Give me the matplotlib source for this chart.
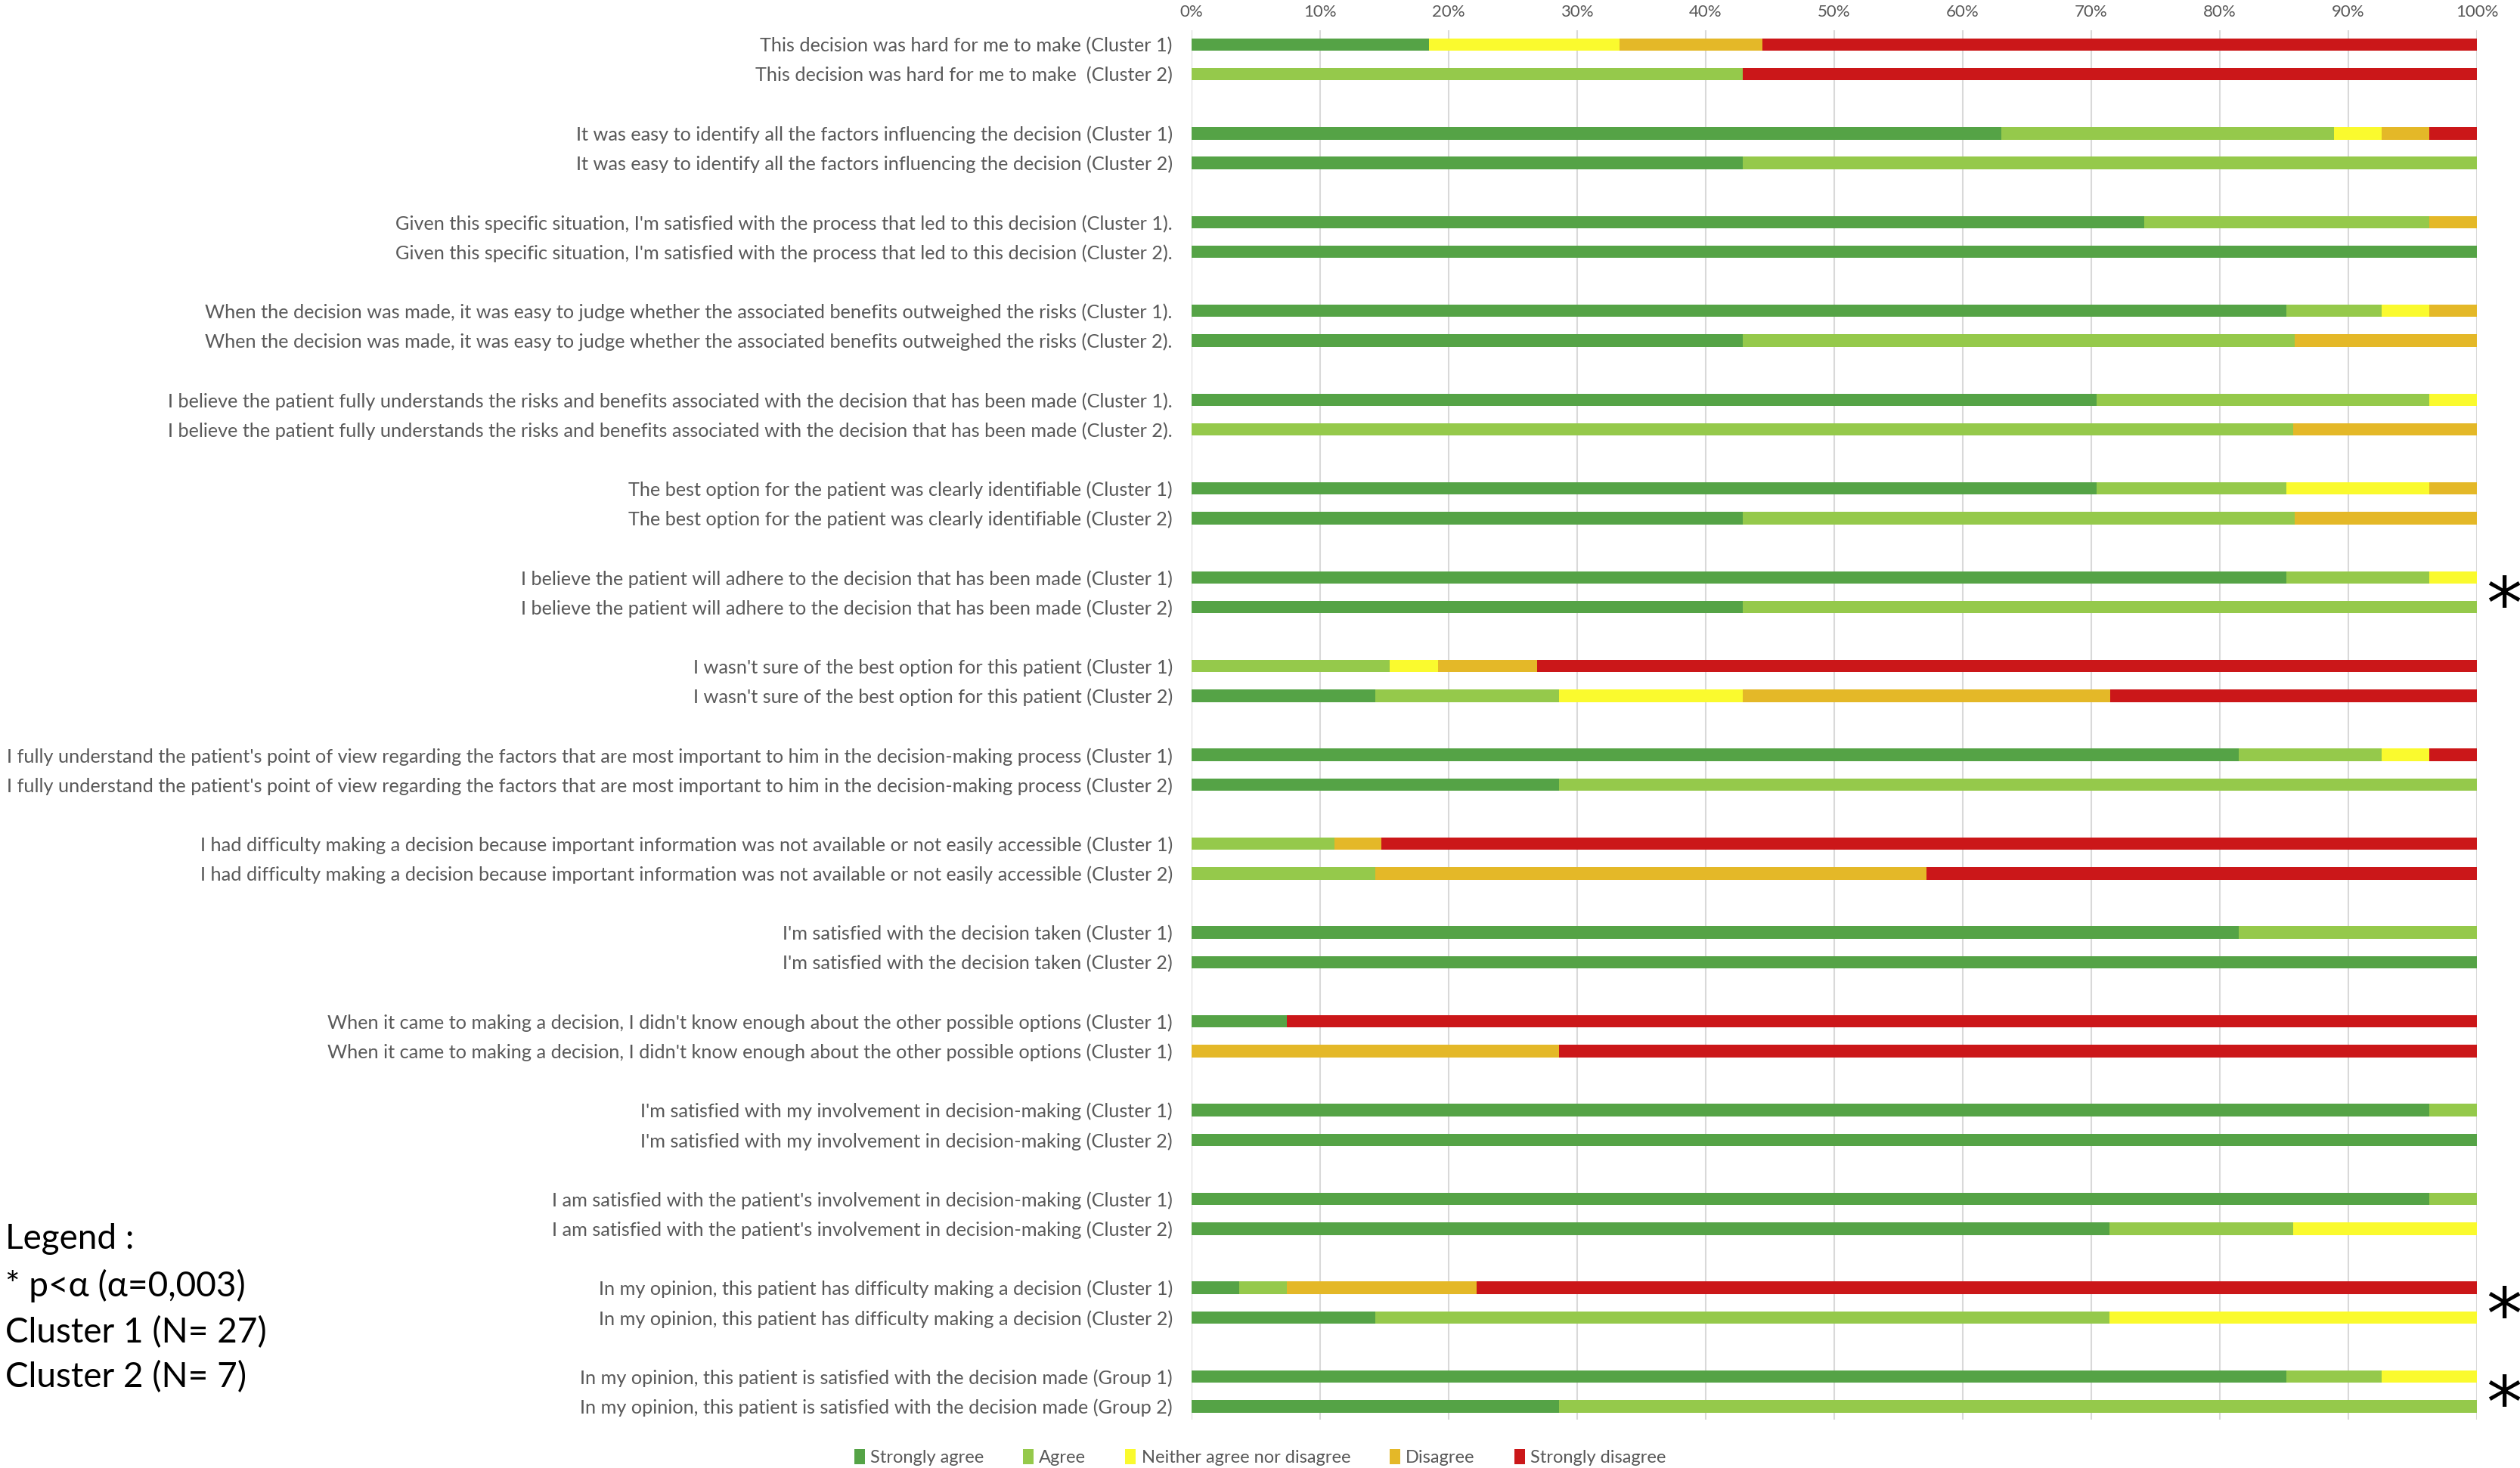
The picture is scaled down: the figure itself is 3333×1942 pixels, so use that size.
import matplotlib
matplotlib.use("Agg")
import matplotlib.pyplot as plt
from matplotlib.patches import Patch
from matplotlib.transforms import blended_transform_factory

plt.rcParams['font.family'] = ['Lato', 'DejaVu Sans']

# statements, top to bottom (one per bar)
labels = [
    "This decision was hard for me to make (Cluster 1)",
    "This decision was hard for me to make  (Cluster 2)",
    "It was easy to identify all the factors influencing the decision (Cluster 1)",
    "It was easy to identify all the factors influencing the decision (Cluster 2)",
    "Given this specific situation, I'm satisfied with the process that led to this decision (Cluster 1).",
    "Given this specific situation, I'm satisfied with the process that led to this decision (Cluster 2).",
    "When the decision was made, it was easy to judge whether the associated benefits outweighed the risks (Cluster 1).",
    "When the decision was made, it was easy to judge whether the associated benefits outweighed the risks (Cluster 2).",
    "I believe the patient fully understands the risks and benefits associated with the decision that has been made (Cluster 1).",
    "I believe the patient fully understands the risks and benefits associated with the decision that has been made (Cluster 2).",
    "The best option for the patient was clearly identifiable (Cluster 1)",
    "The best option for the patient was clearly identifiable (Cluster 2)",
    "I believe the patient will adhere to the decision that has been made (Cluster 1)",
    "I believe the patient will adhere to the decision that has been made (Cluster 2)",
    "I wasn't sure of the best option for this patient (Cluster 1)",
    "I wasn't sure of the best option for this patient (Cluster 2)",
    "I fully understand the patient's point of view regarding the factors that are most important to him in the decision-making process (Cluster 1)",
    "I fully understand the patient's point of view regarding the factors that are most important to him in the decision-making process (Cluster 2)",
    "I had difficulty making a decision because important information was not available or not easily accessible (Cluster 1)",
    "I had difficulty making a decision because important information was not available or not easily accessible (Cluster 2)",
    "I'm satisfied with the decision taken (Cluster 1)",
    "I'm satisfied with the decision taken (Cluster 2)",
    "When it came to making a decision, I didn't know enough about the other possible options (Cluster 1)",
    "When it came to making a decision, I didn't know enough about the other possible options (Cluster 1)",
    "I'm satisfied with my involvement in decision-making (Cluster 1)",
    "I'm satisfied with my involvement in decision-making (Cluster 2)",
    "I am satisfied with the patient's involvement in decision-making (Cluster 1)",
    "I am satisfied with the patient's involvement in decision-making (Cluster 2)",
    "In my opinion, this patient has difficulty making a decision (Cluster 1)",
    "In my opinion, this patient has difficulty making a decision (Cluster 2)",
    "In my opinion, this patient is satisfied with the decision made (Group 1)",
    "In my opinion, this patient is satisfied with the decision made (Group 2)",
]

categories = ["Strongly agree", "Agree", "Neither agree nor disagree", "Disagree", "Strongly disagree"]

# percentages per answer, same order as labels
strongly_agree = [18.5, 0, 63.0, 42.9, 74.1, 100, 85.2, 42.9, 70.4, 0, 70.4, 42.9, 85.2, 42.9, 0, 14.3,
                  81.5, 28.6, 0, 0, 81.5, 100, 7.4, 0, 96.3, 100, 96.3, 71.4, 3.7, 14.3, 85.2, 28.6]
agree = [0, 42.9, 25.9, 57.1, 22.2, 0, 7.4, 42.9, 25.9, 85.7, 14.8, 42.9, 11.1, 57.1, 15.4, 14.3,
         11.1, 71.4, 11.1, 14.3, 18.5, 0, 0, 0, 3.7, 0, 3.7, 14.3, 3.7, 57.1, 7.4, 71.4]
neither = [14.8, 0, 3.7, 0, 0, 0, 3.7, 0, 3.7, 0, 11.1, 0, 3.7, 0, 3.8, 14.3,
           3.7, 0, 0, 0, 0, 0, 0, 0, 0, 0, 0, 14.3, 0, 28.6, 7.4, 0]
disagree = [11.1, 0, 3.7, 0, 3.7, 0, 3.7, 14.3, 0, 14.3, 3.7, 14.3, 0, 0, 7.7, 28.6,
            0, 0, 3.7, 42.9, 0, 0, 0, 28.6, 0, 0, 0, 0, 14.8, 0, 0, 0]
strongly_disagree = [55.6, 57.1, 3.7, 0, 0, 0, 0, 0, 0, 0, 0, 0, 0, 0, 73.1, 28.6,
                     3.7, 0, 85.2, 42.9, 0, 0, 92.6, 71.4, 0, 0, 0, 0, 77.8, 0, 0, 0]

significant = [7, 15, 16]  # pair numbers (1-based) marked with *

colors = ['#55a346', '#95c94b', '#fafa2e', '#e4b828', '#cb1719']

# bar positions: two bars per statement, one empty slot between pairs
ypos = [3 * (i // 2) + (i % 2) for i in range(len(labels))]

fig = plt.figure(figsize=(33.33, 19.42), dpi=100)
ax = fig.add_axes([0.4728, 0.033, 0.5101, 0.9464])

series = [strongly_agree, agree, neither, disagree, strongly_disagree]
left = [0.0] * len(labels)
for name, vals, col in zip(categories, series, colors):
    ax.barh(ypos, vals, left=left, height=0.42, color=col, label=name, zorder=3)
    left = [a + b for a, b in zip(left, vals)]

ax.set_xlim(0, 100)
ax.set_ylim(max(ypos) + 0.45, -0.48)
ax.set_xticks(range(0, 101, 10))
ax.set_xticklabels([f"{t}%" for t in range(0, 101, 10)])
ax.xaxis.tick_top()
ax.tick_params(axis='x', length=0, pad=10, labelsize=16, labelcolor='#595959')
ax.set_yticks(ypos)
ax.set_yticklabels(labels)
ax.tick_params(axis='y', length=0, pad=18, labelsize=18.2, labelcolor='#595959')
ax.grid(axis='x', color='#d9d9d9', linewidth=1.5, zorder=0)
for s in ax.spines.values():
    s.set_visible(False)

# significance stars
trans = blended_transform_factory(ax.transAxes, ax.transData)
for p in significant:
    y = 3 * (p - 1) + 0.5
    ax.text(1.021, y + 0.55, "*", transform=trans, ha='center', va='center',
            fontsize=68, family='DejaVu Sans', color='black', clip_on=False)

# left legend text
notes = ["Legend :", "* p<\u03b1 (\u03b1=0,003)", "Cluster 1 (N= 27)", "Cluster 2 (N= 7)"]
note_y = [1639, 1701, 1763, 1822]
for txt, yy in zip(notes, note_y):
    fig.text(0.002, 1 - yy / 1942, txt, ha='left', va='center', fontsize=33, color='black')

handles = [Patch(facecolor=c, label=n) for n, c in zip(categories, colors)]
fig.legend(handles=handles, loc='center', bbox_to_anchor=(0.5, 1 - 1928 / 1942), ncol=5,
           frameon=False, fontsize=17, handlelength=0.6, handleheight=0.9,
           handletextpad=0.3, columnspacing=2.2, labelcolor='#595959')

fig.savefig("out.png", dpi=100, facecolor='white')
